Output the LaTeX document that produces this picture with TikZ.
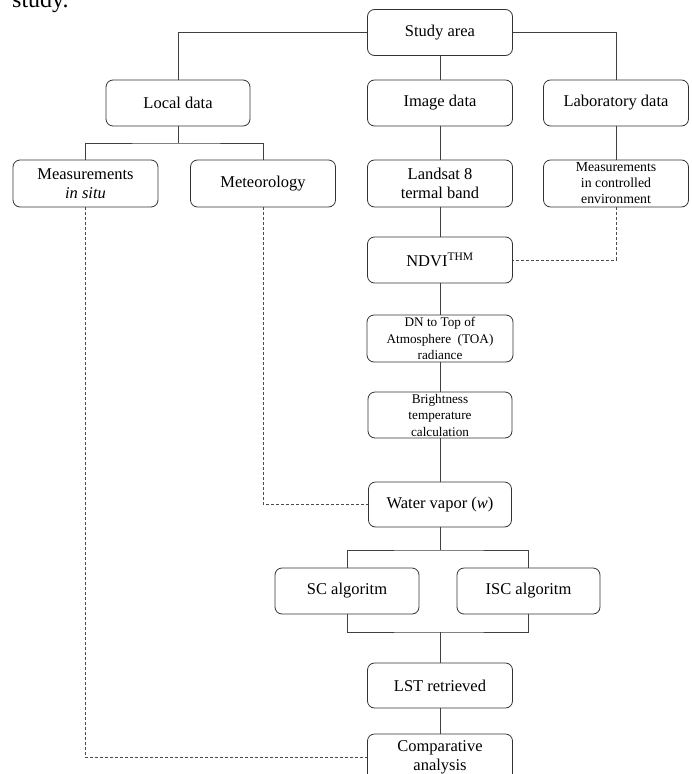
\documentclass[tikz,border=0pt]{standalone}
\usepackage{fontspec}
\setmainfont{Liberation Serif}
\begin{document}
\begin{tikzpicture}[x=1pt,y=-1pt,
  box/.style={draw=black!80, line width=0.8pt, rounded corners=7pt, fill=white,
    minimum width=145pt, minimum height=46pt, inner sep=0pt, align=center,
    font=\fontsize{16.5}{18.5}\selectfont},
  smallbox/.style={box, font=\fontsize{13.2}{16.5}\selectfont},
  tinybox/.style={box, font=\fontsize{13.8}{16}\selectfont},
  link/.style={draw=black!75, line width=0.8pt},
  dlink/.style={draw=black!70, line width=0.8pt, dash pattern=on 3pt off 2pt}]
\useasboundingbox (0,0) rectangle (691,774);
\clip (0,0) rectangle (691,774);
\fill[white] (0,0) rectangle (691,774);
\node[anchor=base west, font=\fontsize{24}{28}\selectfont, inner sep=0pt] (cap) at (12,7) {study.};
% nodes
\node[box] (study) at (440,32.5) {Study area};
\node[box, minimum width=144pt] (local) at (178,103) {Local data};
\node[box] (image) at (440,103) {Image data};
\node[box] (lab) at (616,103) {Laboratory data};
\node[box, minimum height=47pt] (situ) at (85.5,183.5) {Measurements\\ \textit{in situ}};
\node[box, minimum height=47pt] (meteo) at (263,183.5) {Meteorology};
\node[box, minimum height=47pt] (landsat) at (440,183.5) {Landsat 8\\termal band};
\node[tinybox, minimum height=47pt] (meas) at (616,183.5) {Measurements\\in controlled\\environment};
\node[box] (ndvi) at (440,260) {NDVI\textsuperscript{THM}};
\node[smallbox, minimum width=146pt, minimum height=47pt] (dn) at (440,338.5) {DN to Top of\\Atmosphere~~(TOA)\\radiance};
\node[smallbox, minimum width=144pt] (bright) at (440,415) {Brightness\\temperature\\calculation};
\node[box, minimum width=143pt, minimum height=45pt] (water) at (440,504.5) {Water vapor (\textit{w})};
\node[box, minimum width=144pt] (sc) at (347,591) {SC algoritm};
\node[box, minimum width=143pt] (isc) at (528.5,591) {ISC algoritm};
\node[box, minimum height=45pt] (lst) at (440,685.5) {LST retrieved};
\node[box, minimum height=47pt] (comp) at (440,757.5) {Comparative\\analysis};
% junctions
\coordinate (j1) at (178,143);
\coordinate (j2) at (440,550);
\coordinate (j3) at (440,632);
% solid connectors
\draw[link] (study.west) -| (local.north);
\draw[link] (study.east) -| (lab.north);
\draw[link] (study.south) -- (image.north);
\draw[link] (local.south) -- (j1);
\draw[link] (situ.north) |- (j1) -| (meteo.north);
\draw[link] (image.south) -- (landsat.north);
\draw[link] (lab.south) -- (meas.north);
\draw[link] (landsat.south) -- (ndvi.north);
\draw[link] (ndvi.south) -- (dn.north);
\draw[link] (dn.south) -- (bright.north);
\draw[link] (bright.south) -- (water.north);
\draw[link] (water.south) -- (j2);
\draw[link] (sc.north) |- (j2) -| (isc.north);
\draw[link] (sc.south) |- (j3) -| (isc.south);
\draw[link] (j3) -- (lst.north);
\draw[link] (lst.south) -- (comp.north);
% dashed connectors
\draw[dlink] (meas.south) |- (ndvi.east);
\draw[dlink] (meteo.south) |- (water.west);
\draw[dlink] (situ.south) |- (comp.west);
\end{tikzpicture}
\end{document}
